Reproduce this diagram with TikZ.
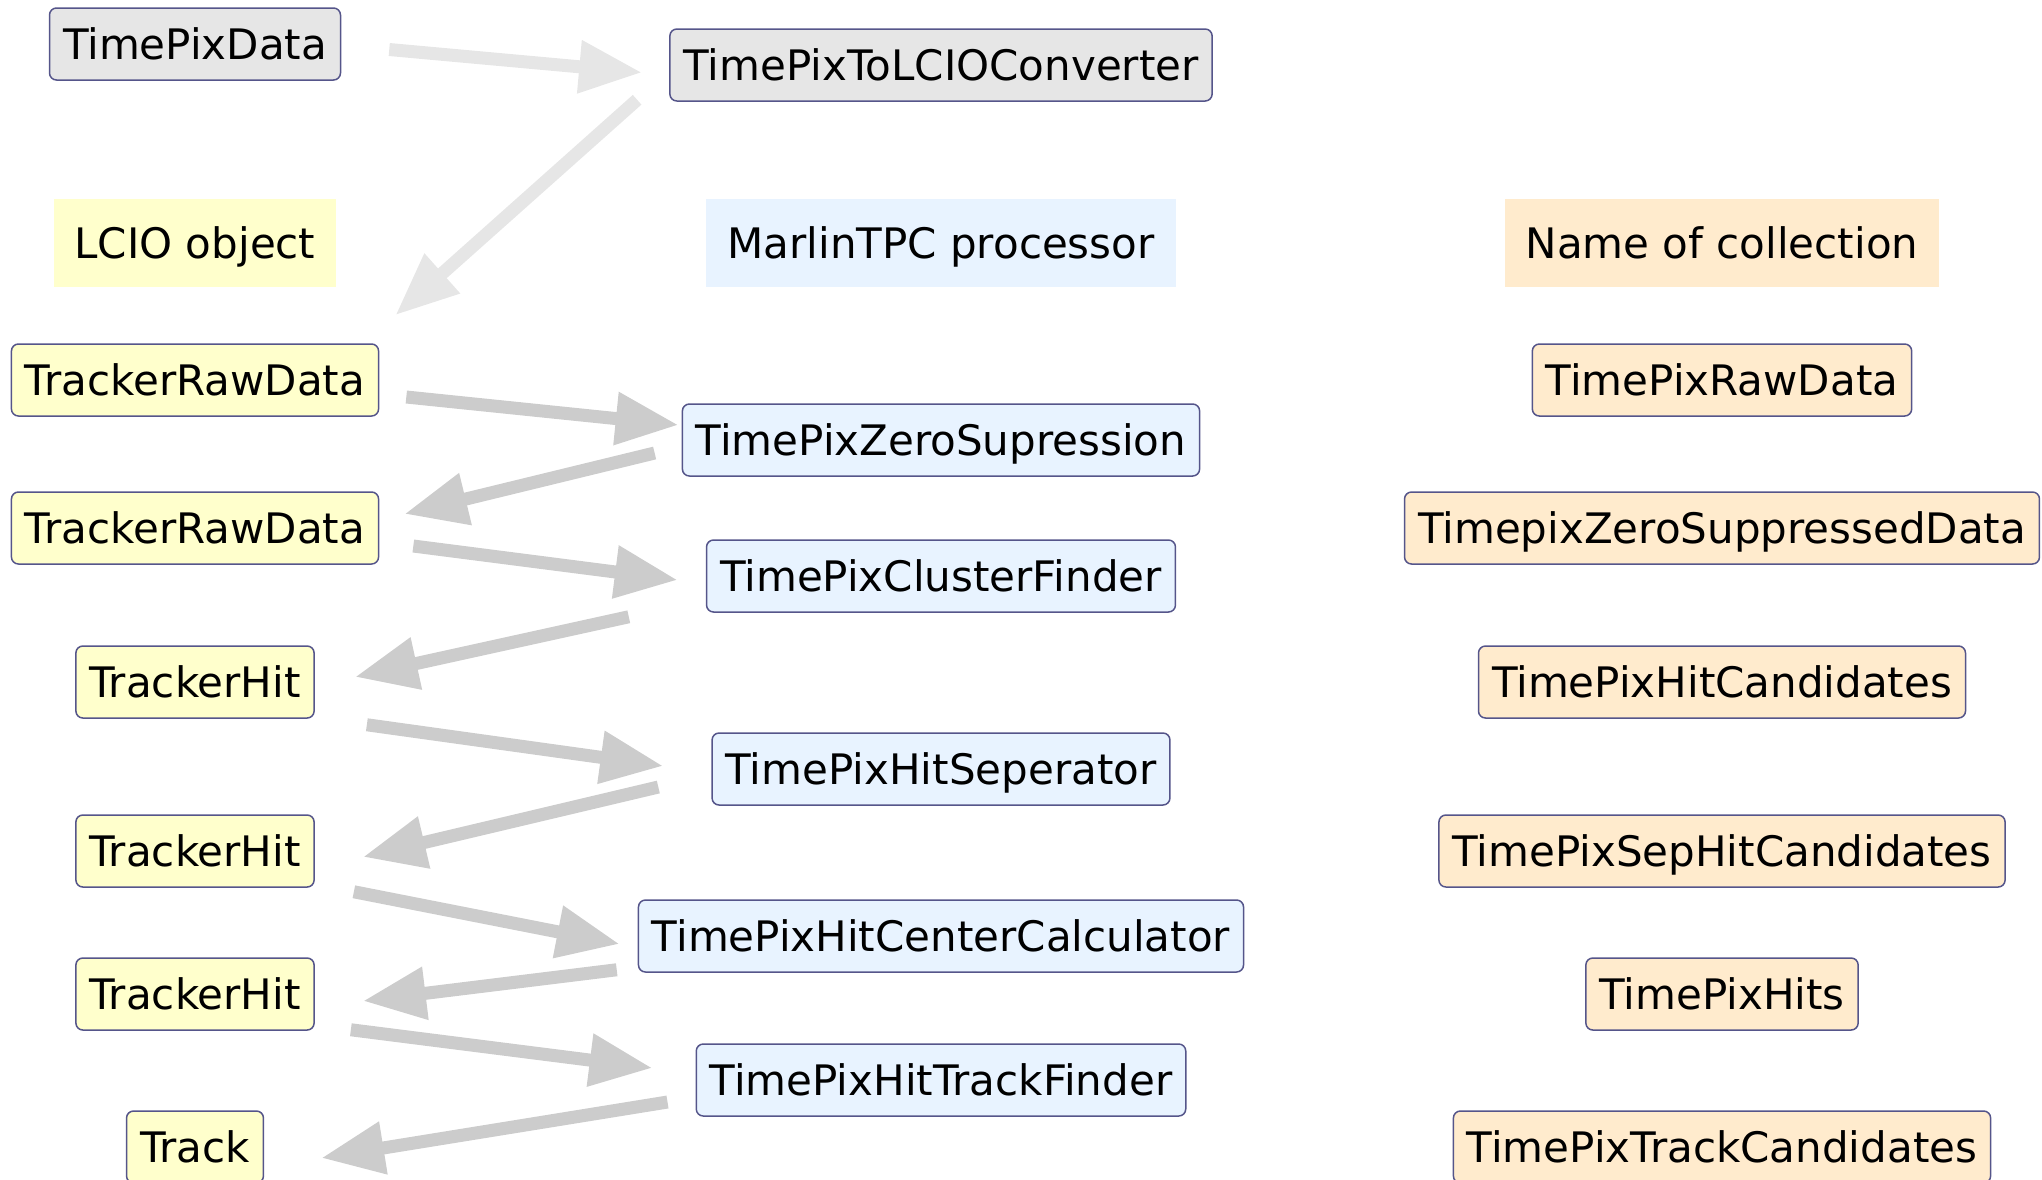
\documentclass[tikz,border=0pt]{standalone}
\usepackage{fontspec}
\setmainfont{DejaVu Sans}
\usetikzlibrary{arrows.meta,calc}
\definecolor{objfill}{HTML}{FFFFCC}
\definecolor{procfill}{HTML}{E8F3FF}
\definecolor{collfill}{HTML}{FFEBCD}
\definecolor{rawfill}{HTML}{E6E6E6}
\definecolor{boxline}{HTML}{55558A}
\definecolor{flowgray}{HTML}{CCCCCC}
\definecolor{flowlight}{HTML}{E6E6E6}
\begin{document}
\begin{tikzpicture}[x=0.1mm, y=-0.1mm,
    every node/.style={font=\fontsize{11.95}{14}\selectfont, text height=8.7pt, text depth=0pt},
    box/.style={draw=boxline, line width=0.15mm, rounded corners=0.7mm, inner xsep=1.35mm, inner ysep=0pt, minimum height=7.2mm},
    rawbox/.style={box, fill=rawfill},
    objbox/.style={box, fill=objfill},
    procbox/.style={box, fill=procfill},
    collbox/.style={box, fill=collfill},
    legend/.style={inner xsep=2.1mm, inner ysep=0pt, minimum height=8.8mm},
    flow/.style={draw=flowgray, line width=1.3mm, -{Triangle[length=6.3mm,width=5mm]}},
    flowtop/.style={flow, draw=flowlight}]
    \useasboundingbox (0,0) rectangle (2042,1179);
    % raw data input
    \node[rawbox] (tpdata) at (195,44) {TimePixData};
    \node[rawbox] (conv) at (941,65) {TimePixToLCIOConverter};
    % legend
    \node[legend, fill=objfill] (lcio) at (195,243) {LCIO object};
    \node[legend, fill=procfill] (marlin) at (941,243) {MarlinTPC processor};
    \node[legend, fill=collfill] (coll) at (1722,243) {Name of collection};
    % LCIO objects
    \node[objbox] (trd1) at (195,380) {TrackerRawData};
    \node[objbox] (trd2) at (195,528) {TrackerRawData};
    \node[objbox] (th1) at (195,682) {TrackerHit};
    \node[objbox] (th2) at (195,851) {TrackerHit};
    \node[objbox] (th3) at (195,994) {TrackerHit};
    \node[objbox] (track) at (195,1147) {Track};
    % processors
    \node[procbox] (zs) at (941,440) {TimePixZeroSupression};
    \node[procbox] (cf) at (941,576) {TimePixClusterFinder};
    \node[procbox] (hs) at (941,769) {TimePixHitSeperator};
    \node[procbox] (cc) at (941,936) {TimePixHitCenterCalculator};
    \node[procbox] (tf) at (941,1080) {TimePixHitTrackFinder};
    % collections
    \node[collbox] (rawcoll) at (1722,380) {TimePixRawData};
    \node[collbox] (zscoll) at (1722,528) {TimepixZeroSuppressedData};
    \node[collbox] (hccoll) at (1722,682) {TimePixHitCandidates};
    \node[collbox] (shccoll) at (1722,851) {TimePixSepHitCandidates};
    \node[collbox] (hitcoll) at (1722,994) {TimePixHits};
    \node[collbox] (tccoll) at (1722,1147) {TimePixTrackCandidates};
    % data flow
    \draw[flowtop] ($(tpdata.east)+(48,5.5)$) -- ($(conv.west)+(-27,7.5)$);
    \draw[flowtop] ($(conv.south west)+(-32,-2)$) -- ($(trd1.north east)+(16,-28)$);
    \draw[flow] ($(trd1.east)+(27,17)$) -- ($(zs.west)+(-3,-15)$);
    \draw[flow] ($(zs.west)+(-27,13)$) -- ($(trd2.east)+(25,-14)$);
    \draw[flow] ($(trd2.east)+(34,18)$) -- ($(cf.west)+(-28,4)$);
    \draw[flow] ($(cf.south west)+(-77,4)$) -- ($(th1.east)+(40,-5)$);
    \draw[flow] ($(th1.south east)+(52,6)$) -- ($(hs.west)+(-48,-3)$);
    \draw[flow] ($(hs.west)+(-53,18)$) -- ($(th2.east)+(48,6)$);
    \draw[flow] ($(th2.south east)+(39,4)$) -- ($(cc.west)+(-18,8)$);
    \draw[flow] ($(cc.south west)+(-21,-3)$) -- ($(th3.east)+(48,7)$);
    \draw[flow] ($(th3.south east)+(36,-1)$) -- ($(tf.west)+(-43,-12)$);
    \draw[flow] ($(tf.west)+(-28,22)$) -- ($(track.east)+(57,11)$);
\end{tikzpicture}
\end{document}
